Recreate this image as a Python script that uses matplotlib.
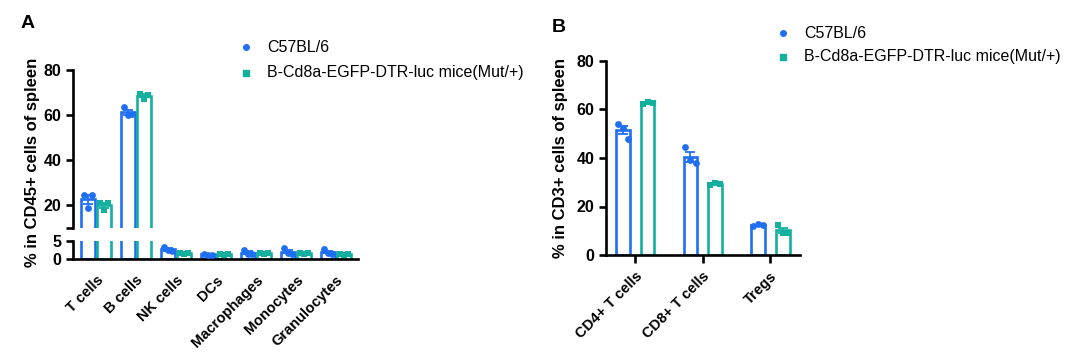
import matplotlib
matplotlib.use("Agg")
import matplotlib.pyplot as plt
import numpy as np

plt.rcParams['font.family'] = ['Liberation Sans', 'DejaVu Sans']

BLUE = '#1f6ff2'
TEAL = '#14b09f'

groups = ['C57BL/6', 'B-Cd8a-EGFP-DTR-luc mice(Mut/+)']

# Panel A
cats_a = ['T cells', 'B cells', 'NK cells', 'DCs', 'Macrophages', 'Monocytes', 'Granulocytes']
wt_a_pts = [[24.7, 18.8, 24.5], [63.5, 60.0, 60.3], [3.4, 2.4, 2.3], [1.5, 1.1, 1.2],
            [2.4, 1.5, 1.5], [3.0, 1.6, 1.5], [2.7, 1.6, 1.5]]
mut_a_pts = [[21.2, 17.8, 21.0], [69.5, 67.2, 69.0], [1.6, 1.4, 1.6], [1.3, 1.1, 1.4],
             [1.6, 1.4, 1.6], [1.6, 1.4, 1.6], [1.3, 1.1, 1.4]]

# Panel B
cats_b = ['CD4+ T cells', 'CD8+ T cells', 'Tregs']
wt_b_pts = [[54.0, 52.5, 48.0], [44.5, 39.0, 38.0], [12.0, 12.6, 12.3]]
mut_b_pts = [[62.2, 63.2, 62.5], [29.0, 29.8, 29.4], [12.3, 9.0, 9.2]]

yticks_a_top = [10, 20, 40, 60, 80]
ytick_labels_a_top = ['', '20', '40', '60', '80']
yticks_a_bot = [0, 5]
yticks_b = [0, 20, 40, 60, 80]

W, H = 1068, 357
fig = plt.figure(figsize=(W / 100, H / 100), dpi=100)

def fr(x0, y0, x1, y1):
    return [x0 / W, 1 - y1 / H, (x1 - x0) / W, (y1 - y0) / H]

TF = dict(fontsize=10.5, fontweight='bold')

def draw_group(ax, xs, pts_list, color, marker, width, jit):
    for x, pts in zip(xs, pts_list):
        pts = np.array(pts)
        m = pts.mean()
        sem = pts.std(ddof=1) / np.sqrt(len(pts))
        ax.bar(x, m, width=width, facecolor='white', edgecolor=color, linewidth=1.9, zorder=2)
        ax.errorbar(x, m, yerr=sem, color=color, capsize=3.5, elinewidth=1.3,
                    capthick=1.3, fmt='none', zorder=3)
        offs = np.array([-jit, 0, jit])
        ax.scatter(x + offs, pts, color=color, marker=marker, s=24, zorder=4, linewidths=0)

def style(ax):
    for s in ['top', 'right']:
        ax.spines[s].set_visible(False)
    for s in ['left', 'bottom']:
        ax.spines[s].set_linewidth(1.9)
    ax.tick_params(axis='y', width=1.9, length=5, labelsize=11.5)
    for lab in ax.get_yticklabels():
        lab.set_fontweight('bold')

# ---- Panel A (broken axis)
xa = np.arange(len(cats_a))
xl = (-0.575, len(cats_a) - 1 + 0.55)
ax_top = fig.add_axes(fr(73, 70, 358, 228))
ax_bot = fig.add_axes(fr(73, 241, 358, 259))
for ax in (ax_top, ax_bot):
    draw_group(ax, xa - 0.2, wt_a_pts, BLUE, 'o', 0.33, 0.11)
    draw_group(ax, xa + 0.2, mut_a_pts, TEAL, 's', 0.33, 0.11)
    ax.set_xlim(*xl)
ax_top.set_ylim(10, 80)
ax_top.set_yticks(yticks_a_top)
ax_top.set_yticklabels(ytick_labels_a_top)
ax_top.spines['bottom'].set_visible(False)
ax_top.set_xticks([])
ax_bot.set_ylim(0, 5)
ax_bot.set_yticks(yticks_a_bot)
ax_bot.set_xticks(xa)
ax_bot.set_xticklabels(cats_a, rotation=45, ha='right', rotation_mode='anchor', **TF)
ax_bot.tick_params(axis='x', length=0, pad=10)
style(ax_top)
style(ax_bot)
fig.text(33 / W, 1 - 162 / H, '% in CD45+ cells of spleen', rotation=90, ha='center',
         va='center', fontsize=12, fontweight='bold')

# ---- Panel B
xb = np.arange(len(cats_b))
ax_b = fig.add_axes(fr(606, 61, 800, 255))
draw_group(ax_b, xb - 0.18, wt_b_pts, BLUE, 'o', 0.2, 0.075)
draw_group(ax_b, xb + 0.185, mut_b_pts, TEAL, 's', 0.2, 0.075)
ax_b.set_xlim(-0.43, len(cats_b) - 1 + 0.44)
ax_b.set_ylim(0, 80)
ax_b.set_yticks(yticks_b)
ax_b.set_xticks(xb)
ax_b.set_xticklabels(cats_b, rotation=45, ha='right', rotation_mode='anchor', **TF)
ax_b.tick_params(axis='x', length=6, width=1.9, pad=4)
style(ax_b)
fig.text(560 / W, 1 - 158 / H, '% in CD3+ cells of spleen', rotation=90, ha='center',
         va='center', fontsize=12, fontweight='bold')

# Panel letters
fig.text(21 / W, 1 - 23 / H, 'A', fontsize=14, fontweight='bold', ha='left', va='center')
fig.text(552 / W, 1 - 27 / H, 'B', fontsize=14, fontweight='bold', ha='left', va='center')

# Legends
def legend(x_mark, y1, y2):
    for (g, c, mk, y) in [(groups[0], BLUE, 'o', y1), (groups[1], TEAL, 's', y2)]:
        fig.lines.append(matplotlib.lines.Line2D([x_mark / W], [1 - y / H], marker=mk, color=c,
                                                 markersize=4, linestyle='none',
                                                 transform=fig.transFigure))
        fig.text((x_mark + 21) / W, 1 - y / H, g, fontsize=11.5, ha='left', va='center')

legend(246, 47, 73)
legend(783, 33, 57)

fig.savefig('out.png', dpi=100)
